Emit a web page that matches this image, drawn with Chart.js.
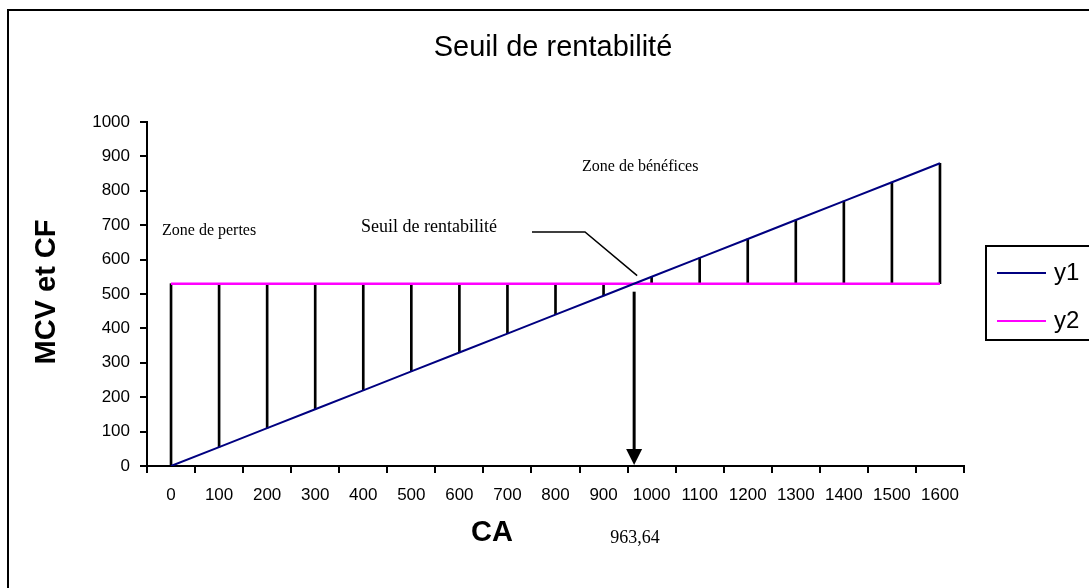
<!DOCTYPE html>
<html lang="fr">
<head>
<meta charset="UTF-8">
<title>Seuil de rentabilité</title>
<script src="https://cdn.jsdelivr.net/npm/chart.js"></script>
<style>
  html, body { margin: 0; padding: 0; background: #fff; }
  #wrap { width: 1089px; height: 588px; position: relative; }
</style>
</head>
<body>
<div id="wrap"><canvas id="chart"></canvas></div>
<script>
  // données
  const caLabels = ['0', '100', '200', '300', '400', '500', '600', '700', '800', '900', '1000', '1100', '1200', '1300', '1400', '1500', '1600'];
  const y1 = [0, 55, 110, 165, 220, 275, 330, 385, 440, 495, 550, 605, 660, 715, 770, 825, 880];
  const y2 = [530, 530, 530, 530, 530, 530, 530, 530, 530, 530, 530, 530, 530, 530, 530, 530, 530];
  const seuil = 963.64;
  const caStep = 100;
  const seriesNames = ['y1', 'y2'];
  const seriesColors = ['#000080', '#FF00FF'];

  const sans = '"Liberation Sans", Arial, sans-serif';
  const serif = '"Liberation Serif", "Times New Roman", serif';

  // dessin des textes, flèche, légende et cadre
  const decor = {
    id: 'decor',
    afterDraw(chart) {
      const ctx = chart.ctx;
      const xs = chart.scales.x;
      const ys = chart.scales.y;
      ctx.save();

      // cadre extérieur
      ctx.strokeStyle = '#000';
      ctx.lineWidth = 2;
      ctx.strokeRect(8, 10, 1200, 700);

      ctx.fillStyle = '#000';
      ctx.textAlign = 'center';
      ctx.textBaseline = 'middle';

      // titre
      ctx.font = '29px ' + sans;
      ctx.fillText('Seuil de rentabilité', 553, 48);

      // titres des axes
      ctx.font = 'bold 29px ' + sans;
      ctx.fillText('CA', 492, 533);
      ctx.save();
      ctx.translate(47, 292);
      ctx.rotate(-Math.PI / 2);
      ctx.fillText('MCV et CF', 0, 0);
      ctx.restore();

      // annotations
      ctx.font = '18px ' + serif;
      ctx.fillText('963,64', 635, 538);
      ctx.textAlign = 'left';
      ctx.font = '16px ' + serif;
      ctx.fillText('Zone de pertes', 162, 231);
      ctx.fillText('Zone de bénéfices', 582, 167);
      ctx.font = '18px ' + serif;
      ctx.fillText('Seuil de rentabilité', 361, 227);

      // point mort
      const px = xs.getPixelForValue(seuil / caStep);
      const py = ys.getPixelForValue(y2[0]);
      const p0 = ys.getPixelForValue(0);

      // trait de rappel
      ctx.lineWidth = 1.5;
      ctx.beginPath();
      ctx.moveTo(532, 232);
      ctx.lineTo(585, 232);
      ctx.lineTo(px + 3, py - 8);
      ctx.stroke();

      // flèche verticale
      ctx.lineWidth = 3;
      ctx.beginPath();
      ctx.moveTo(px, py + 8);
      ctx.lineTo(px, p0 - 14);
      ctx.stroke();
      ctx.beginPath();
      ctx.moveTo(px - 8, p0 - 17);
      ctx.lineTo(px + 8, p0 - 17);
      ctx.lineTo(px, p0 - 1);
      ctx.closePath();
      ctx.fill();

      // légende
      ctx.lineWidth = 2;
      ctx.strokeRect(986, 246, 200, 94);
      ctx.font = '24px ' + sans;
      ctx.textAlign = 'left';
      seriesNames.forEach((name, i) => {
        const ly = 273 + i * 48;
        ctx.strokeStyle = seriesColors[i];
        ctx.lineWidth = 2;
        ctx.beginPath();
        ctx.moveTo(997, ly);
        ctx.lineTo(1046, ly);
        ctx.stroke();
        ctx.fillText(name, 1054, ly);
      });

      ctx.restore();
    }
  };

  new Chart(document.getElementById('chart'), {
    type: 'line',
    data: {
      labels: caLabels,
      datasets: [
        {
          label: seriesNames[0],
          data: y1,
          borderColor: seriesColors[0],
          borderWidth: 2,
          pointRadius: 0,
          order: 1
        },
        {
          label: seriesNames[1],
          data: y2,
          borderColor: seriesColors[1],
          borderWidth: 2.5,
          pointRadius: 0,
          order: 2
        },
        {
          type: 'bar',
          label: 'ecart',
          data: y1.map((v, i) => [v, y2[i]]),
          backgroundColor: '#000',
          barThickness: 2,
          order: 3
        }
      ]
    },
    options: {
      responsive: true,
      maintainAspectRatio: false,
      animation: false,
      layout: { padding: { top: 122, right: 125, left: 0, bottom: 0 } },
      plugins: {
        legend: { display: false },
        tooltip: { enabled: false }
      },
      scales: {
        x: {
          type: 'category',
          offset: true,
          grid: { offset: true, drawOnChartArea: false, tickLength: 7, color: '#000', lineWidth: 2 },
          border: { color: '#000', width: 2 },
          ticks: { font: { family: sans, size: 17 }, color: '#000', padding: 12, maxRotation: 0, autoSkip: false },
          afterFit(scale) { scale.height = 122; }
        },
        y: {
          min: 0,
          max: 1000,
          grid: { drawOnChartArea: false, tickLength: 7, color: '#000', lineWidth: 2 },
          border: { color: '#000', width: 2 },
          ticks: {
            stepSize: 100,
            font: { family: sans, size: 17 },
            color: '#000',
            padding: 10,
            callback: (v) => String(v)
          },
          afterFit(scale) { scale.width = 147; }
        }
      }
    },
    plugins: [decor]
  });
</script>
</body>
</html>
